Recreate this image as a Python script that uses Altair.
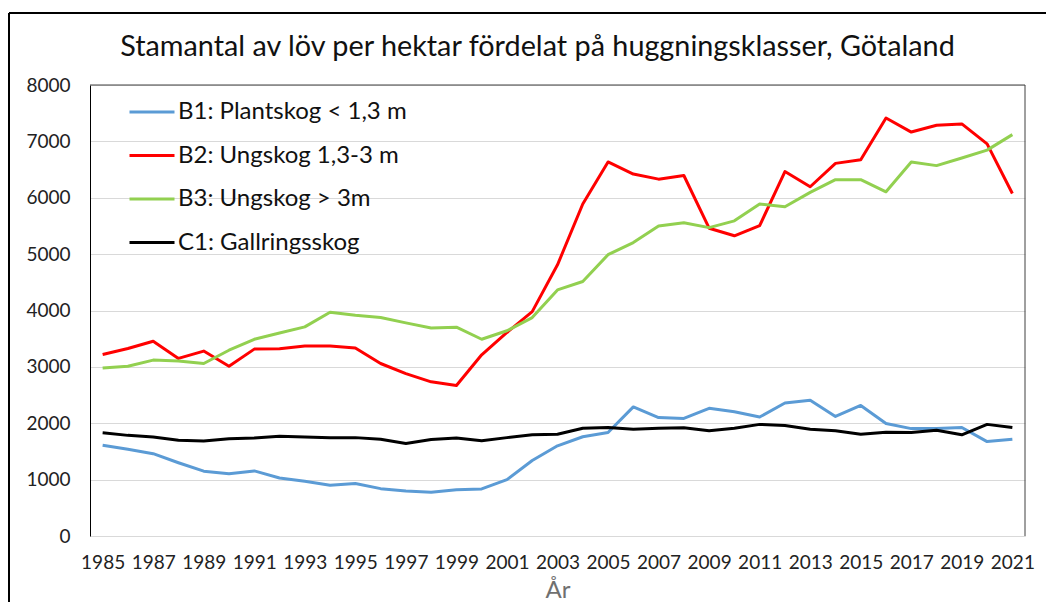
import altair as alt
import pandas as pd

years = [1985, 1986, 1987, 1988, 1989, 1990, 1991, 1992, 1993, 1994,
         1995, 1996, 1997, 1998, 1999, 2000, 2001, 2002, 2003, 2004,
         2005, 2006, 2007, 2008, 2009, 2010, 2011, 2012, 2013, 2014,
         2015, 2016, 2017, 2018, 2019, 2020, 2021]

b1_plantskog = [1610, 1540, 1460, 1300, 1150, 1105, 1155, 1030, 970, 900,
                930, 840, 800, 775, 820, 835, 1000, 1340, 1600, 1760,
                1835, 2290, 2100, 2085, 2265, 2205, 2110, 2360, 2410, 2120,
                2315, 1995, 1905, 1905, 1925, 1675, 1715]

b2_ungskog = [3220, 3325, 3455, 3150, 3280, 3010, 3315, 3320, 3370, 3370,
              3335, 3060, 2880, 2735, 2670, 3215, 3610, 3980, 4810, 5890,
              6635, 6420, 6330, 6395, 5460, 5325, 5505, 6465, 6195, 6610,
              6675, 7415, 7165, 7285, 7310, 6955, 6075]

b3_ungskog = [2980, 3010, 3120, 3105, 3060, 3295, 3490, 3600, 3710, 3970,
              3915, 3875, 3780, 3690, 3705, 3490, 3640, 3875, 4365, 4515,
              4990, 5205, 5500, 5555, 5470, 5590, 5890, 5840, 6095, 6320,
              6320, 6105, 6635, 6570, 6705, 6845, 7120]

c1_gallring = [1830, 1785, 1755, 1700, 1685, 1725, 1740, 1770, 1755, 1745,
               1745, 1715, 1640, 1710, 1740, 1690, 1745, 1795, 1805, 1910,
               1925, 1895, 1910, 1920, 1865, 1910, 1980, 1960, 1895, 1865,
               1805, 1840, 1835, 1875, 1795, 1980, 1925]

series_names = ["B1: Plantskog < 1,3 m", "B2: Ungskog 1,3-3 m",
                "B3: Ungskog > 3m", "C1: Gallringsskog"]
series_colors = ["#5B9BD5", "#FF0000", "#92D050", "#000000"]

x_tick_labels = [1985, 1987, 1989, 1991, 1993, 1995, 1997, 1999, 2001, 2003,
                 2005, 2007, 2009, 2011, 2013, 2015, 2017, 2019, 2021]
y_tick_labels = [0, 1000, 2000, 3000, 4000, 5000, 6000, 7000, 8000]

title_text = "Stamantal av löv per hektar fördelat på huggningsklasser, Götaland"

rows = []
for name, vals in zip(series_names, [b1_plantskog, b2_ungskog, b3_ungskog, c1_gallring]):
    for yr, v in zip(years, vals):
        rows.append({"year": yr, "value": v, "series": name})
df = pd.DataFrame(rows)

W, H = 935, 451
FONT = "Lato"

lines = alt.Chart(df).mark_line(strokeWidth=3, strokeJoin="round").encode(
    x=alt.X("year:Q",
            scale=alt.Scale(domain=[1984.5, 2021.5], nice=False, zero=False),
            axis=alt.Axis(values=x_tick_labels, format="d", title="År",
                          grid=False, ticks=False, domainColor="#d9d9d9",
                          labelFontSize=19, labelPadding=17, labelFlush=False,
                          labelColor="#222222",
                          titleFontSize=24, titleColor="#707070",
                          titleFontWeight="normal", titleY=61,
                          titleBaseline="alphabetic")),
    y=alt.Y("value:Q",
            scale=alt.Scale(domain=[0, 8000], nice=False),
            axis=alt.Axis(values=y_tick_labels, format="d", title=None,
                          ticks=False, domainColor="#000000",
                          gridColor="#d9d9d9", labelPadding=20,
                          labelFontSize=19, labelColor="#222222")),
    color=alt.Color("series:N",
                    scale=alt.Scale(domain=series_names, range=series_colors),
                    legend=alt.Legend(title=None, orient="none", legendX=38,
                                      legendY=3, symbolType="stroke",
                                      symbolSize=2025, symbolStrokeWidth=3,
                                      labelFontSize=24, labelOffset=2,
                                      rowPadding=7.5, padding=0, labelLimit=500,
                                      labelColor="#111111")),
)

one = alt.Data(values=[{"a": 1}])
top_border = alt.Chart(one).mark_rule(color="#404040", strokeWidth=1).encode(
    x=alt.value(0), x2=alt.value(W), y=alt.value(0))
right_border = alt.Chart(one).mark_rule(color="#404040", strokeWidth=1).encode(
    x=alt.value(W), y=alt.value(0), y2=alt.value(H))
outer_top = alt.Chart(one).mark_rule(color="#000000", strokeWidth=2).encode(
    x=alt.value(-81), x2=alt.value(970), y=alt.value(-72))
outer_left = alt.Chart(one).mark_rule(color="#000000", strokeWidth=2).encode(
    x=alt.value(-81), y=alt.value(-72), y2=alt.value(530))

chart = alt.layer(lines, top_border, right_border, outer_top, outer_left).properties(
    width=W, height=H,
    autosize=alt.AutoSizeParams(type="none"),
    padding={"left": 82, "top": 77, "right": 21, "bottom": 66},
    title=alt.Title(title_text, fontSize=28.8, font=FONT, fontWeight="normal",
                    anchor="middle", frame="group", dx=-20, dy=64, offset=0,
                    baseline="middle", color="#111111"),
).configure_view(stroke=None).configure_axis(
    labelFont=FONT, titleFont=FONT
).configure_legend(labelFont=FONT)

chart.save("out.html", embed_options={"renderer": "svg", "actions": False})
